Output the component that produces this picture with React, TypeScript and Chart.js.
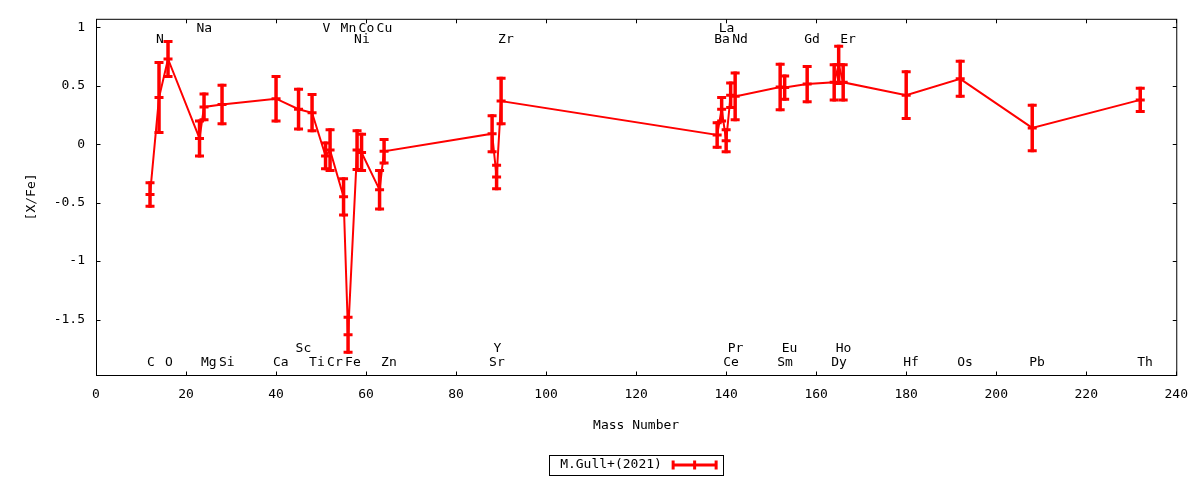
import React, { useEffect, useRef } from "react";
import { Chart, registerables } from "chart.js";

Chart.register(...registerables);

// ---- data ----
const ELEMENTS = ["C","N","O","Na","Mg","Si","Ca","Sc","Ti","V","Cr","Mn","Fe","Ni","Co","Cu","Zn","Sr","Y","Zr","Ba","La","Ce","Pr","Nd","Sm","Eu","Gd","Dy","Ho","Er","Hf","Os","Pb","Th"];
const MASS = [12,14,16,23,24,28,40,45,48,51,52,55,56,58,59,63,64,88,89,90,138,139,140,141,142,152,153,158,164,165,166,180,192,208,232];
const XFE = [-0.43,0.40,0.73,0.05,0.32,0.34,0.39,0.30,0.27,-0.10,-0.05,-0.45,-1.63,-0.05,-0.07,-0.39,-0.06,0.09,-0.28,0.37,0.08,0.30,0.03,0.42,0.41,0.49,0.485,0.515,0.53,0.68,0.53,0.42,0.56,0.14,0.38];
const ERR = [0.10,0.30,0.15,0.15,0.11,0.165,0.19,0.17,0.155,0.11,0.175,0.155,0.15,0.165,0.155,0.165,0.10,0.155,0.10,0.195,0.105,0.10,0.095,0.105,0.20,0.195,0.10,0.15,0.15,0.16,0.15,0.20,0.15,0.195,0.10];
// label row (y in data units) for each element name
const LABEL_ROWS = [0.99, 0.90, -1.75, -1.87];
const LABEL_ROW_INDEX = [3,1,3,0,3,3,3,2,3,0,3,0,3,1,0,0,3,3,2,1,1,0,3,2,1,3,2,1,3,2,1,3,3,3,3];

const X_TICKS = [0,20,40,60,80,100,120,140,160,180,200,220,240];
const Y_TICKS = [-1.5,-1,-0.5,0,0.5,1];
const X_MIN = 0, X_MAX = 240;
const Y_MIN = -1.975, Y_MAX = 1.074;
const SERIES_LABEL = "M.Gull+(2021)";
const X_TITLE = "Mass Number";
const Y_TITLE = "[X/Fe]";

const RED = "#ff0000";
const FONT_FAMILY = '"DejaVu Sans Mono", monospace';
const FONT_SIZE = 13;

const decoPlugin = {
  id: "gnuplotDeco",
  beforeDatasetsDraw(chart: any) {
    const { ctx, chartArea: a, scales } = chart;
    const xs = scales.x, ys = scales.y;
    ctx.save();
    ctx.strokeStyle = "#000";
    ctx.lineWidth = 1;
    ctx.strokeRect(a.left + 0.5, a.top + 0.5, a.right - a.left, a.bottom - a.top);
    const tl = 4;
    ctx.beginPath();
    X_TICKS.forEach((v) => {
      const px = Math.round(xs.getPixelForValue(v)) + 0.5;
      ctx.moveTo(px, a.bottom + 0.5);
      ctx.lineTo(px, a.bottom + 0.5 - tl);
      ctx.moveTo(px, a.top + 0.5);
      ctx.lineTo(px, a.top + 0.5 + tl);
    });
    Y_TICKS.forEach((v) => {
      const py = Math.round(ys.getPixelForValue(v)) + 0.5;
      ctx.moveTo(a.left + 0.5, py);
      ctx.lineTo(a.left + 0.5 + tl, py);
      ctx.moveTo(a.right + 0.5, py);
      ctx.lineTo(a.right + 0.5 - tl, py);
    });
    ctx.stroke();
    // element labels
    ctx.fillStyle = "#000";
    ctx.font = `${FONT_SIZE}px ${FONT_FAMILY}`;
    ctx.textAlign = "left";
    ctx.textBaseline = "middle";
    ELEMENTS.forEach((name, i) => {
      const px = xs.getPixelForValue(MASS[i]) - 3;
      const py = ys.getPixelForValue(LABEL_ROWS[LABEL_ROW_INDEX[i]]);
      ctx.fillText(name, px, py);
    });
    ctx.restore();
  },
  afterDatasetsDraw(chart: any) {
    const { ctx, chartArea: a, scales } = chart;
    const ys = scales.y;
    const meta = chart.getDatasetMeta(0);
    ctx.save();
    ctx.beginPath();
    ctx.rect(a.left, a.top, a.right - a.left, a.bottom - a.top);
    ctx.clip();
    ctx.strokeStyle = RED;
    ctx.lineCap = "butt";
    const cw = 4.5;
    meta.data.forEach((pt: any, i: number) => {
      const px = pt.x;
      const yc = pt.y;
      const yt = ys.getPixelForValue(XFE[i] + ERR[i]);
      const yb = ys.getPixelForValue(XFE[i] - ERR[i]);
      ctx.lineWidth = 3.5;
      ctx.beginPath();
      ctx.moveTo(px, yt - 1.5);
      ctx.lineTo(px, yb + 1.5);
      ctx.stroke();
      ctx.lineWidth = 3;
      ctx.beginPath();
      ctx.moveTo(px - cw, yt);
      ctx.lineTo(px + cw, yt);
      ctx.moveTo(px - cw, yb);
      ctx.lineTo(px + cw, yb);
      ctx.moveTo(px - cw, yc);
      ctx.lineTo(px + cw, yc);
      ctx.stroke();
    });
    ctx.restore();
  },
  afterDraw(chart: any) {
    const { ctx, chartArea: a } = chart;
    const cx = (a.left + a.right) / 2;
    const cy = 465;
    ctx.save();
    ctx.strokeStyle = "#000";
    ctx.lineWidth = 1;
    ctx.strokeRect(Math.round(cx - 87) + 0.5, cy - 10 + 0.5, 174, 20);
    ctx.fillStyle = "#000";
    ctx.font = `${FONT_SIZE}px ${FONT_FAMILY}`;
    ctx.textAlign = "left";
    ctx.textBaseline = "middle";
    ctx.fillText(SERIES_LABEL, cx - 76, cy);
    const x0 = cx + 37, x1 = cx + 80;
    ctx.strokeStyle = RED;
    ctx.lineWidth = 3;
    ctx.beginPath();
    ctx.moveTo(x0, cy);
    ctx.lineTo(x1, cy);
    [x0, (x0 + x1) / 2, x1].forEach((xx) => {
      ctx.moveTo(xx, cy - 4.5);
      ctx.lineTo(xx, cy + 4.5);
    });
    ctx.stroke();
    ctx.restore();
  },
};

export default function App() {
  const ref = useRef<HTMLCanvasElement | null>(null);
  useEffect(() => {
    if (!ref.current) return;
    const font = { family: FONT_FAMILY, size: FONT_SIZE };
    const chart = new Chart(ref.current, {
      type: "line",
      data: {
        datasets: [
          {
            label: SERIES_LABEL,
            data: MASS.map((m, i) => ({ x: m, y: XFE[i] })),
            borderColor: RED,
            backgroundColor: RED,
            borderWidth: 2,
            pointRadius: 0,
            tension: 0,
            fill: false,
          },
        ],
      },
      options: {
        responsive: false,
        animation: false,
        events: [],
        layout: { padding: { top: 17, right: 23, left: 0, bottom: 0 } },
        plugins: { legend: { display: false }, tooltip: { enabled: false } },
        scales: {
          x: {
            type: "linear",
            min: X_MIN,
            max: X_MAX,
            afterBuildTicks: (s: any) => {
              s.ticks = X_TICKS.map((v) => ({ value: v }));
            },
            afterFit: (s: any) => {
              s.height = 105;
            },
            grid: { display: false, drawTicks: false },
            border: { display: false },
            ticks: {
              padding: 12,
              color: "#000",
              font,
              maxRotation: 0,
              autoSkip: false,
              callback: (v: any) => String(v),
            },
            title: {
              display: true,
              text: X_TITLE,
              color: "#000",
              font,
              padding: { top: 0, bottom: 47 },
            },
          },
          y: {
            type: "linear",
            min: Y_MIN,
            max: Y_MAX,
            afterBuildTicks: (s: any) => {
              s.ticks = Y_TICKS.map((v) => ({ value: v }));
            },
            afterFit: (s: any) => {
              s.width = 96;
            },
            grid: { display: false, drawTicks: false },
            border: { display: false },
            ticks: {
              padding: 11,
              color: "#000",
              font,
              autoSkip: false,
              callback: (v: any) => String(v),
            },
            title: {
              display: true,
              text: Y_TITLE,
              color: "#000",
              font,
              padding: { top: 24, bottom: 0 },
            },
          },
        },
      } as any,
      plugins: [decoPlugin],
    });
    return () => chart.destroy();
  }, []);
  return (
    <div style={{ position: "absolute", left: 0, top: 0, width: 1200, height: 480, background: "#fff" }}>
      <canvas ref={ref} width={1200} height={480} style={{ display: "block" }} />
    </div>
  );
}
